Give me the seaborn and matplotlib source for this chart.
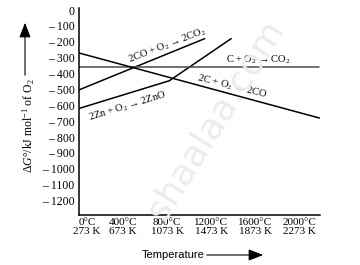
import matplotlib
matplotlib.use("Agg")
import matplotlib.pyplot as plt
import matplotlib.patches as mpatches
import matplotlib.transforms as mtransforms
import seaborn as sns
import pandas as pd

# ---- data ----
zn_T = [0, 820, 1380]
zn_G = [-620, -445, -180]
co_T = [0, 1140]
co_G = [-503, -180]
c_T = [0, 2180]
c_G = [-360, -360]
c2_T = [0, 2180]
c2_G = [-270, -680]

x_ticks = [0, 200, 400, 600, 800, 1000, 1200, 1400, 1600, 1800, 2000]
x_ticklabels = ["0°C\n273 K", "", "400°C\n673 K", "", "800°C\n1073 K", "",
                "1200°C\n1473 K", "", "1600°C\n1873 K", "", "2000°C\n2273 K"]
y_ticks = [0, -100, -200, -300, -400, -500, -600, -700, -800, -900, -1000, -1100, -1200]
y_ticklabels = ["0"] + ["– %d" % (-v) for v in y_ticks[1:]]

rows = []
for name, T, G in [("zn", zn_T, zn_G), ("co", co_T, co_G), ("c", c_T, c_G), ("c2", c2_T, c2_G)]:
    for t, g in zip(T, G):
        rows.append({"reaction": name, "T": t, "G": g})
df = pd.DataFrame(rows)

sns.set_style("white")
plt.rcParams['font.family'] = ['Liberation Serif', 'DejaVu Sans']
plt.rcParams['mathtext.fontset'] = 'custom'
plt.rcParams['mathtext.rm'] = 'Liberation Serif'
plt.rcParams['mathtext.it'] = 'Liberation Serif:italic'
plt.rcParams['text.color'] = 'black'
plt.rcParams['xtick.labelcolor'] = 'black'
plt.rcParams['ytick.labelcolor'] = 'black'

fig = plt.figure(figsize=(3.6, 2.65), dpi=100)

# faint watermark (behind everything)
fig.text(0.60, 0.55, "shaalaa.com", rotation=58, ha='center', va='center', fontsize=26,
         color='#ececec', family=['DejaVu Sans'], zorder=0)

ax = fig.add_axes([0.219, 0.189, 0.67, 0.779])
ax.patch.set_alpha(0)

palette = {"zn": "black", "co": "black", "c": "#4a4a4a", "c2": "black"}
sns.lineplot(data=df, x="T", y="G", hue="reaction", units="reaction", estimator=None,
             palette=palette, linewidth=1.1, legend=False, ax=ax, sort=False)

ax.set_xlim(0, 2185)
ax.set_ylim(-1290, 10)
ax.set_xticks(x_ticks)
ax.set_xticklabels(x_ticklabels, fontsize=8, linespacing=1.05)
ax.set_yticks(y_ticks)
ax.set_yticklabels(y_ticklabels, fontsize=8.5)
ax.tick_params(axis='both', direction='in', length=4, width=0.9, color='black', pad=3)
ax.tick_params(axis='x', pad=2)
ax.set_xlabel("")
ax.set_ylabel("")
for s in ["top", "right"]:
    ax.spines[s].set_visible(False)
for s in ["left", "bottom"]:
    ax.spines[s].set_color("black")
    ax.spines[s].set_linewidth(1.1)

# shift first x label a bit right like the reference
offset = mtransforms.ScaledTranslation(8 / 100, 0, fig.dpi_scale_trans)
first = ax.get_xticklabels()[0]
first.set_transform(first.get_transform() + offset)

# reaction labels
fs = 7.5
ax.text(800, -222, "2CO + O$_2$ → 2CO$_2$", rotation=21, ha='center', va='center', fontsize=fs)
ax.text(1627, -316, "C + O$_2$ → CO$_2$", rotation=0, ha='center', va='center', fontsize=fs)
ax.text(1391, -482, "2C + O$_2$ → 2CO", rotation=-14, ha='center', va='center', fontsize=fs)
ax.text(445, -606, "2Zn + O$_2$ → 2ZnO", rotation=17, ha='center', va='center', fontsize=fs)

# axis titles with arrows (figure coords)
fig.text(142 / 360, 1 - 255 / 265, "Temperature", ha='left', va='center', fontsize=8,
         family=['Liberation Sans'])
fig.add_artist(mpatches.FancyArrowPatch((204 / 360, 1 - 255 / 265), (266 / 360, 1 - 255 / 265),
               transform=fig.transFigure, arrowstyle='-|>,head_length=9,head_width=3.5',
               color='black', linewidth=0.8, mutation_scale=1))
fig.text(29 / 360, 1 - 126 / 265, r"$\Delta G°$/kJ mol$^{-1}$ of O$_2$", rotation=90,
         ha='center', va='center', fontsize=8.5)
fig.add_artist(mpatches.FancyArrowPatch((25 / 360, 1 - 78 / 265), (25 / 360, 1 - 20 / 265),
               transform=fig.transFigure, arrowstyle='-|>,head_length=9,head_width=3.5',
               color='black', linewidth=0.8, mutation_scale=1))

fig.savefig("out.png", dpi=100)
